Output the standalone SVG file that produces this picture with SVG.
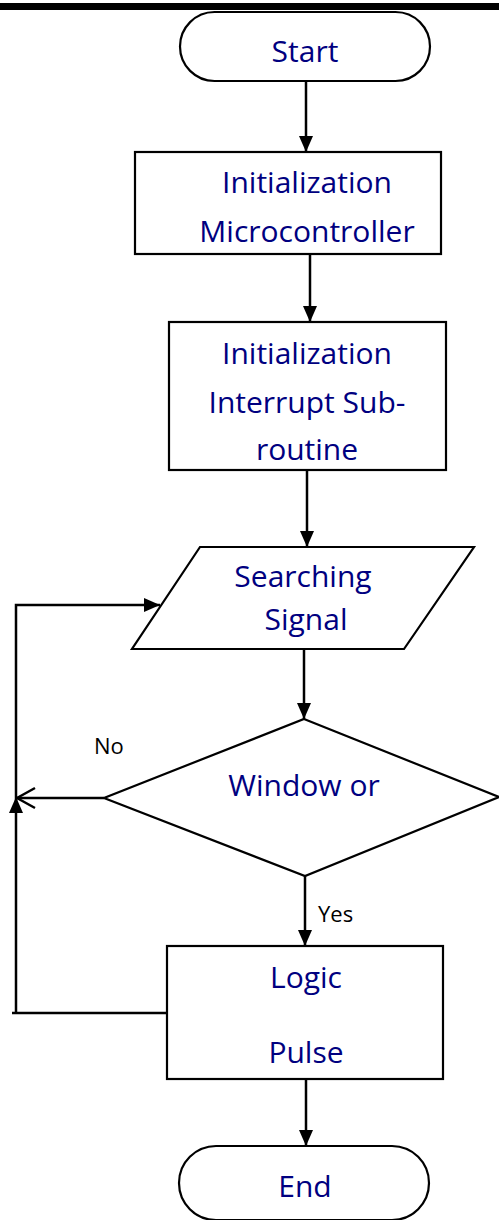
<svg xmlns="http://www.w3.org/2000/svg" width="499" height="1220" viewBox="0 0 499 1220">
  <style>
    .shape { fill: #ffffff; stroke: #000000; stroke-width: 2.2; }
    .t { font-family: "Open Sans", "Noto Sans", sans-serif; font-size: 30px; fill: #000080; text-anchor: middle; }
    .lbl { font-family: "Open Sans", "Noto Sans", sans-serif; font-size: 22px; fill: #000000; }
    .conn { fill: none; stroke: #000000; stroke-width: 2.5; }
  </style>
  <defs>
    <marker id="arrow" markerUnits="userSpaceOnUse" markerWidth="16" markerHeight="14" refX="16" refY="7" orient="auto">
      <path d="M0,0 L16,7 L0,14 z" fill="#000000"/>
    </marker>
    <marker id="open" markerUnits="userSpaceOnUse" markerWidth="22" markerHeight="24" refX="20" refY="12" orient="auto">
      <path d="M2,2 L20,12 L2,22" fill="none" stroke="#000000" stroke-width="2.5"/>
    </marker>
  </defs>

  <rect x="0" y="3" width="499" height="7" fill="#000000"/>

  <g id="connectors">
    <path class="conn" d="M306,81 V152" marker-end="url(#arrow)"/>
    <path class="conn" d="M310,254 V322" marker-end="url(#arrow)"/>
    <path class="conn" d="M307,470 V547" marker-end="url(#arrow)"/>
    <path class="conn" d="M304,649 V719" marker-end="url(#arrow)"/>
    <path class="conn" d="M305,876 V946" marker-end="url(#arrow)"/>
    <path class="conn" d="M306,1079 V1146" marker-end="url(#arrow)"/>
    <path class="conn" d="M104,798 H17" marker-end="url(#open)"/>
    <path class="conn" d="M166,1013 H12"/>
    <path class="conn" d="M16,1013 V797" marker-end="url(#arrow)"/>
    <path class="conn" d="M16,797 V605 H160" marker-end="url(#arrow)"/>
    <text class="lbl" x="94" y="754">No</text>
    <text class="lbl" x="318" y="922">Yes</text>
  </g>

  <g id="start">
    <rect class="shape" x="180" y="12" width="250" height="69" rx="34.5" ry="34.5"/>
    <text class="t" x="305" y="62">Start</text>
  </g>

  <g id="init-micro">
    <rect class="shape" x="135" y="152" width="306" height="102"/>
    <text class="t" x="307" y="193">Initialization</text>
    <text class="t" x="307" y="242">Microcontroller</text>
  </g>

  <g id="init-interrupt">
    <rect class="shape" x="169" y="322" width="277" height="148"/>
    <text class="t" x="307" y="364">Initialization</text>
    <text class="t" x="307" y="413">Interrupt Sub-</text>
    <text class="t" x="307" y="460">routine</text>
  </g>

  <g id="searching">
    <polygon class="shape" points="200,547 474,547 404,649 132,649"/>
    <text class="t" x="303" y="587">Searching</text>
    <text class="t" x="306" y="630">Signal</text>
  </g>

  <g id="decision">
    <polygon class="shape" points="304,719 499,797 305,876 104,798"/>
    <text class="t" x="304" y="796">Window or</text>
  </g>

  <g id="logic">
    <rect class="shape" x="167" y="946" width="276" height="133"/>
    <text class="t" x="306" y="988">Logic</text>
    <text class="t" x="306" y="1063">Pulse</text>
  </g>

  <g id="end">
    <rect class="shape" x="179" y="1146" width="250" height="74" rx="37" ry="37"/>
    <text class="t" x="305" y="1197">End</text>
  </g>
</svg>
